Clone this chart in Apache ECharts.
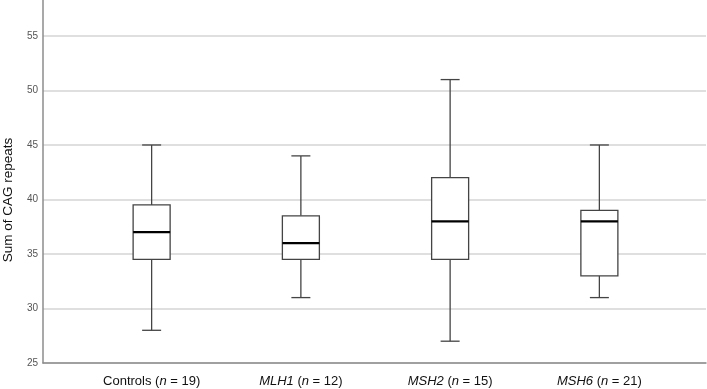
<!DOCTYPE html>
<html>
<head>
<meta charset="utf-8">
<script src="https://cdn.jsdelivr.net/npm/echarts@6/dist/echarts.min.js"></script>
<style>
  html, body { margin: 0; padding: 0; background: #fff; }
  #chart { width: 707px; height: 389px; }
</style>
</head>
<body>
<div id="chart"></div>
<script>
// groups as shown on the x axis
const groups = ['Controls', 'MLH1', 'MSH2', 'MSH6']
const groupN = [19, 12, 15, 21]
const italicGroup = [false, true, true, true]

// box statistics
const whiskerLow = [28, 31, 27, 31]
const q1 = [34.5, 34.5, 34.5, 33]
const median = [37, 36, 38, 38]
const q3 = [39.5, 38.5, 42, 39]
const whiskerHigh = [45, 44, 51, 45]

const yTicks = [25, 30, 35, 40, 45, 50, 55]
const yMin = 25
const yMax = 58.3

const boxData = groups.map((g, i) => [i, whiskerLow[i], q1[i], median[i], q3[i], whiskerHigh[i]])

const chart = echarts.init(document.getElementById('chart'))

function renderBox(params, api) {
  const i = api.value(0)
  const lo = api.coord([i, api.value(1)])
  const b1 = api.coord([i, api.value(2)])
  const md = api.coord([i, api.value(3)])
  const b3 = api.coord([i, api.value(4)])
  const hi = api.coord([i, api.value(5)])
  const x = lo[0]
  const half = 18.5
  const cap = 9.5
  const line = { stroke: '#444', lineWidth: 1.3 }
  return {
    type: 'group',
    children: [
      { type: 'line', shape: { x1: x, y1: hi[1], x2: x, y2: b3[1] }, style: line },
      { type: 'line', shape: { x1: x, y1: b1[1], x2: x, y2: lo[1] }, style: line },
      { type: 'line', shape: { x1: x - cap, y1: hi[1], x2: x + cap, y2: hi[1] }, style: line },
      { type: 'line', shape: { x1: x - cap, y1: lo[1], x2: x + cap, y2: lo[1] }, style: line },
      { type: 'rect', shape: { x: x - half, y: b3[1], width: half * 2, height: b1[1] - b3[1] },
        style: { fill: '#fff', stroke: '#444', lineWidth: 1.3 } },
      { type: 'line', shape: { x1: x - half, y1: md[1], x2: x + half, y2: md[1] },
        style: { stroke: '#000', lineWidth: 2.2 } }
    ]
  }
}

const font = 'Liberation Sans, Arial, sans-serif'

chart.setOption({
  animation: false,
  backgroundColor: '#fff',
  grid: [
    { left: 43, right: 1, top: 0, bottom: 26 },
    { left: 77, right: 33, top: 0, bottom: 26 }
  ],
  xAxis: [
    {
      gridIndex: 0, type: 'value', min: 0, max: 1,
      axisLine: { show: true, lineStyle: { color: '#8c8c8c', width: 1.5 } },
      axisTick: { show: false }, axisLabel: { show: false }, splitLine: { show: false }
    },
    {
      gridIndex: 1, type: 'category', data: groups, boundaryGap: true,
      axisLine: { show: false }, axisTick: { show: false },
      axisLabel: {
        interval: 0,
        margin: 12,
        fontFamily: font,
        fontSize: 13,
        color: '#111',
        formatter: function (v, idx) {
          const name = italicGroup[idx] ? '{it|' + v + '}' : '{n|' + v + '}'
          return name + '{n| (}{it|n}{n| = ' + groupN[idx] + ')}'
        },
        rich: {
          n: { fontSize: 13, color: '#111', fontFamily: font },
          it: { fontSize: 13, color: '#111', fontStyle: 'italic', fontFamily: font }
        }
      }
    }
  ],
  yAxis: [
    {
      gridIndex: 0, type: 'value', min: yMin, max: yMax, interval: 5,
      axisLine: { show: true, lineStyle: { color: '#8c8c8c', width: 1.5 } },
      axisTick: { show: false },
      axisLabel: {
        margin: 5, fontSize: 10, color: '#555',
        fontFamily: font,
        showMaxLabel: false,
        formatter: v => (yTicks.indexOf(v) >= 0 ? String(v) : '')
      },
      splitLine: {
        show: true, showMaxLine: false,
        lineStyle: { color: '#d4d4d4', width: 1.5 }
      }
    },
    {
      gridIndex: 1, type: 'value', min: yMin, max: yMax,
      axisLine: { show: false }, axisTick: { show: false },
      axisLabel: { show: false }, splitLine: { show: false }
    }
  ],
  graphic: [
    {
      type: 'text', x: 8, y: 200, rotation: Math.PI / 2,
      style: {
        text: 'Sum of CAG repeats', fill: '#111', fontSize: 13.5,
        fontFamily: font,
        align: 'center', verticalAlign: 'middle'
      }
    }
  ],
  series: [
    {
      type: 'custom',
      xAxisIndex: 1, yAxisIndex: 1,
      renderItem: renderBox,
      encode: { x: 0, y: [1, 2, 3, 4, 5] },
      data: boxData,
      z: 5
    }
  ]
})
</script>
</body>
</html>
